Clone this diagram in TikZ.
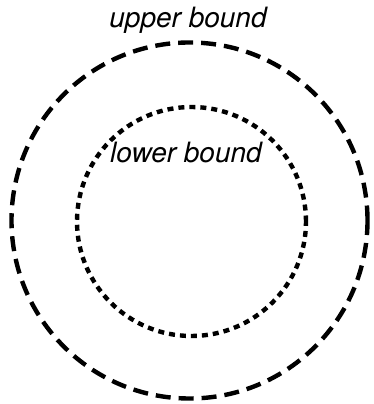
\documentclass[tikz,border=0pt]{standalone}
\usepackage{fontspec}
\setsansfont{TeX Gyre Heros}
\usepackage{tikz}

\begin{document}
\begin{tikzpicture}[x=1pt,y=1pt,
    font=\sffamily\itshape\fontsize{28}{32}\selectfont,
    bound/.style={circle,draw=black,line width=4.4pt,inner sep=0pt,outer sep=0pt},
    upperline/.style={bound,dash pattern=on 15pt off 8pt},
    lowerline/.style={bound,dash pattern=on 6pt off 5pt}]
    \useasboundingbox (0,0) rectangle (373,404);
    % the two bounds
    \node[upperline,minimum size=356pt] (outer) at (189.5,183.5) {};
    \node[lowerline,minimum size=229pt] (inner) at (191.5,182.5) {};
    % labels
    \node[anchor=base] (upperlabel) at (188,376) {upper bound};
    \node[anchor=base] (lowerlabel) at (186,241) {lower bound};
\end{tikzpicture}
\end{document}
